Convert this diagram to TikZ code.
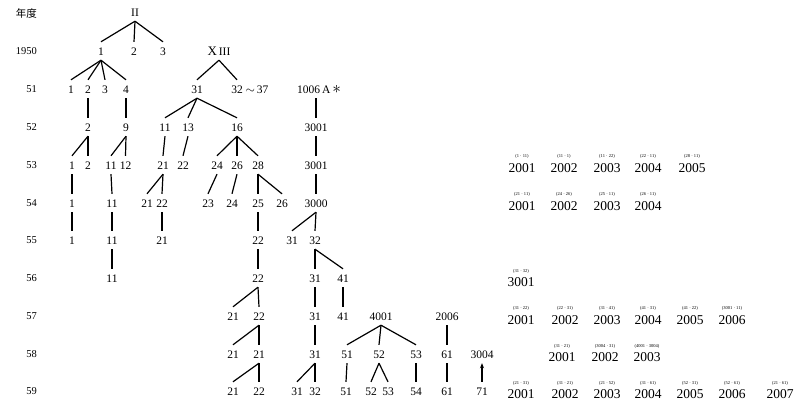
\documentclass[tikz,border=0pt]{standalone}
\usepackage{fontspec}
\setmainfont{Liberation Serif}
\newfontfamily\jpfont{Noto Sans CJK JP}
\usetikzlibrary{arrows.meta}
\begin{document}
\begin{tikzpicture}[x=1pt,y=-1pt,
  tn/.style={inner xsep=0.5pt, inner ysep=5pt, text height=8pt, text depth=0pt, font=\fontsize{11.5}{12}\selectfont},
  yr/.style={anchor=east, inner sep=0pt, font=\fontsize{10.5}{12}\selectfont},
  rl/.style={inner sep=0pt, font=\fontsize{13.5}{14}\selectfont},
  sm/.style={inner sep=0pt, font=\fontsize{4.5}{5}\selectfont},
  ln/.style={line width=1.2pt}]
\useasboundingbox (0,0) rectangle (795,407);
% year column
\node[yr] (y0) at (37,13) {\jpfont 年度};
\node[yr] (y50) at (37,51) {1950};
\node[yr] (y51) at (37,89) {51};
\node[yr] (y52) at (37,127) {52};
\node[yr] (y53) at (37,165) {53};
\node[yr] (y54) at (37,203) {54};
\node[yr] (y55) at (37,240) {55};
\node[yr] (y56) at (37,278) {56};
\node[yr] (y57) at (37,316) {57};
\node[yr] (y58) at (37,354) {58};
\node[yr] (y59) at (37,391) {59};
% row 0
\node[tn] (n0) at (135,12) {II};
% 1950
\node[tn] (a1) at (101,51) {1};
\node[tn] (a2) at (134,51) {2};
\node[tn] (a3) at (163,51) {3};
\node[tn] (aX) at (219,51) {{\fontsize{13}{13}\selectfont X}\,III};
% 51
\node[tn] (b1) at (71,89) {1};
\node[tn] (b2) at (88,89) {2};
\node[tn] (b3) at (105,89) {3};
\node[tn] (b4) at (126,89) {4};
\node[tn] (b31) at (197,89) {31};
\node[tn] (b32) at (237,89) {32};
\node[tn,anchor=west] (bt) at (245,89) {$\sim$\,37};
\node[tn] (bA) at (319,89) {1006\,A\,\raisebox{-0.5pt}{\fontsize{17}{17}\selectfont$\ast$}};
% 52
\node[tn] (c2) at (88,127) {2};
\node[tn] (c9) at (126,127) {9};
\node[tn] (c11) at (165,127) {11};
\node[tn] (c13) at (188,127) {13};
\node[tn] (c16) at (237,127) {16};
\node[tn] (c3001) at (316,127) {3001};
% 53
\node[tn] (d1) at (72,165) {1};
\node[tn] (d2) at (88,165) {2};
\node[tn] (d11) at (111,165) {11};
\node[tn] (d12) at (125.5,165) {12};
\node[tn] (d21) at (163,165) {21};
\node[tn] (d22) at (183,165) {22};
\node[tn] (d24) at (217,165) {24};
\node[tn] (d26) at (237,165) {26};
\node[tn] (d28) at (258,165) {28};
\node[tn] (d3001) at (316,165) {3001};
% 54
\node[tn] (e1) at (72,203) {1};
\node[tn] (e11) at (112,203) {11};
\node[tn] (e21) at (147,203) {21};
\node[tn] (e22) at (162,203) {22};
\node[tn] (e23) at (208,203) {23};
\node[tn] (e24) at (232,203) {24};
\node[tn] (e25) at (258,203) {25};
\node[tn] (e26) at (282,203) {26};
\node[tn] (e3000) at (316,203) {3000};
% 55
\node[tn] (f1) at (72,240) {1};
\node[tn] (f11) at (112,240) {11};
\node[tn] (f21) at (162,240) {21};
\node[tn] (f22) at (258,240) {22};
\node[tn] (f31) at (292,240) {31};
\node[tn] (f32) at (315,240) {32};
% 56
\node[tn] (g11) at (112,278) {11};
\node[tn] (g22) at (258,278) {22};
\node[tn] (g31) at (315,278) {31};
\node[tn] (g41) at (343,278) {41};
% 57
\node[tn] (h21) at (233,316) {21};
\node[tn] (h22) at (259,316) {22};
\node[tn] (h31) at (315,316) {31};
\node[tn] (h41) at (343,316) {41};
\node[tn] (h4001) at (381,316) {4001};
\node[tn] (h2006) at (447,316) {2006};
% 58
\node[tn] (i21) at (233,354) {21};
\node[tn] (i21b) at (259,354) {21};
\node[tn] (i31) at (315,354) {31};
\node[tn] (i51) at (347,354) {51};
\node[tn] (i52) at (379,354) {52};
\node[tn] (i53) at (416,354) {53};
\node[tn] (i61) at (447,354) {61};
\node[tn] (i3004) at (482,354) {3004};
% 59
\node[tn] (j21) at (233,391) {21};
\node[tn] (j22) at (259,391) {22};
\node[tn] (j31) at (297,391) {31};
\node[tn] (j32) at (315,391) {32};
\node[tn] (j51) at (346,391) {51};
\node[tn] (j52) at (371,391) {52};
\node[tn] (j53) at (388,391) {53};
\node[tn] (j54) at (416,391) {54};
\node[tn] (j61) at (447,391) {61};
\node[tn] (j71) at (482,391) {71};
% edges
\foreach \p/\c in {n0/a1,n0/a2,n0/a3,a1/b1,a1/b2,a1/b3,a1/b4,aX/b31,aX/b32,
  b2/c2,b4/c9,b31/c11,b31/c13,b31/c16,
  c2/d1,c2/d2,c9/d11,c9/d12,c11/d21,c13/d22,c16/d24,c16/d26,c16/d28,c3001/d3001,
  d1/e1,d11/e11,d21/e21,d21/e22,d24/e23,d26/e24,d28/e25,d28/e26,d3001/e3000,
  e1/f1,e11/f11,e22/f21,e25/f22,e3000/f31,e3000/f32,
  f11/g11,f22/g22,f32/g31,f32/g41,
  g22/h21,g22/h22,g31/h31,g41/h41,
  h22/i21,h22/i21b,h31/i31,h4001/i51,h4001/i52,h4001/i53,h2006/i61,
  i21b/j21,i21b/j22,i31/j31,i31/j32,i51/j51,i52/j52,i52/j53,i53/j54,i61/j61}
  \draw[ln] (\p.south) -- (\c.north);
\draw[ln] (bA.south -| c3001.north) -- (c3001.north);
\draw[ln,-{Stealth[length=5pt,width=4pt]}] (j71.north) -- (i3004.south);
% right column
\foreach \x/\t/\s/\n in {522/2001/{(1 · 11)}/a,564/2002/{(11 · 1)}/b,607/2003/{(11 · 22)}/c,648/2004/{(22 · 11)}/d,692/2005/{(28 · 11)}/e}
  {\node[rl] (r53\n) at (\x,168) {\t}; \node[sm] (s53\n) at (\x,156) {\s};}
\foreach \x/\t/\s/\n in {522/2001/{(21 · 11)}/a,564/2002/{(24 · 26)}/b,607/2003/{(25 · 11)}/c,648/2004/{(26 · 11)}/d}
  {\node[rl] (r54\n) at (\x,206) {\t}; \node[sm] (s54\n) at (\x,194) {\s};}
\node[rl] (r56a) at (521,282) {3001}; \node[sm] (s56a) at (521,271) {(31 · 32)};
\foreach \x/\t/\s/\n in {521/2001/{(31 · 22)}/a,565/2002/{(22 · 31)}/b,607/2003/{(31 · 41)}/c,648/2004/{(41 · 31)}/d,690/2005/{(41 · 22)}/e,732/2006/{(3001 · 11)}/f}
  {\node[rl] (r57\n) at (\x,320) {\t}; \node[sm] (s57\n) at (\x,308) {\s};}
\foreach \x/\t/\s/\n in {562/2001/{(31 · 21)}/a,605/2002/{(3004 · 31)}/b,647/2003/{(4001 · 3004)}/c}
  {\node[rl] (r58\n) at (\x,357) {\t}; \node[sm] (s58\n) at (\x,346) {\s};}
\foreach \x/\t/\s/\n in {521/2001/{(21 · 31)}/a,565/2002/{(31 · 21)}/b,607/2003/{(21 · 52)}/c,648/2004/{(31 · 61)}/d,690/2005/{(52 · 31)}/e,732/2006/{(52 · 61)}/f,780/2007/{(21 · 61)}/g}
  {\node[rl] (r59\n) at (\x,394) {\t}; \node[sm] (s59\n) at (\x,383) {\s};}
\end{tikzpicture}
\end{document}
